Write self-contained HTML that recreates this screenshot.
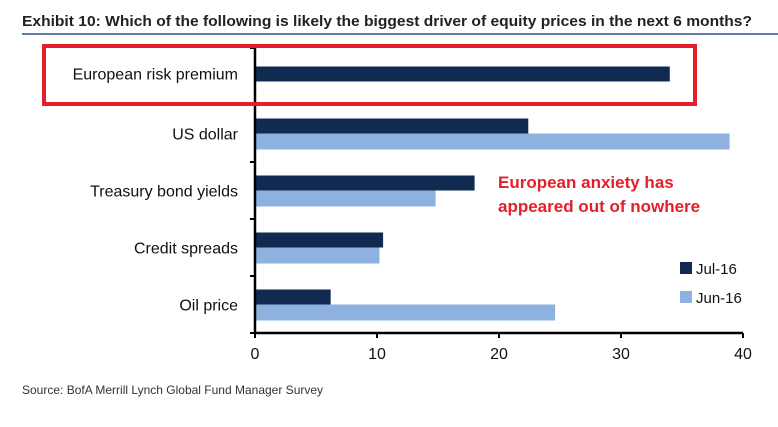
<!DOCTYPE html>
<html><head><meta charset="utf-8"><style>
body{margin:0;background:#fff;width:778px;height:422px;overflow:hidden;font-family:"Liberation Sans",sans-serif}
</style></head><body>
<svg id="c" width="778" height="422">
<text x="22" y="26" font-size="15" font-weight="bold" fill="#222" textLength="730" lengthAdjust="spacingAndGlyphs">Exhibit 10: Which of the following is likely the biggest driver of equity prices in the next 6 months?</text>
<line x1="22" y1="34" x2="778" y2="34" stroke="#5a7ea8" stroke-width="2"/>
<g id="g"></g>
<rect x="44" y="46" width="651" height="58" fill="none" stroke="#e3202a" stroke-width="4"/>
<text x="498" y="188" font-size="17" font-weight="bold" fill="#e3202a">European anxiety has</text>
<text x="498" y="212" font-size="17" font-weight="bold" fill="#e3202a">appeared out of nowhere</text>
<rect x="680" y="262" width="12" height="12" fill="#112a52"/>
<text x="696" y="274" font-size="15" fill="#111">Jul-16</text>
<rect x="680" y="291" width="12" height="12" fill="#8eb2e0"/>
<text x="696" y="303" font-size="15" fill="#111">Jun-16</text>
<text x="22" y="394" font-size="12" fill="#333">Source: BofA Merrill Lynch Global Fund Manager Survey</text>
</svg>
<script>
const categories=["European risk premium","US dollar","Treasury bond yields","Credit spreads","Oil price"];
const jul16=[34.0,22.4,18.0,10.5,6.2];
const jun16=[null,38.9,14.8,10.2,24.6];
const ticks=[0,10,20,30,40];
const NS="http://www.w3.org/2000/svg";
const g=document.getElementById('g');
const x0=255,x1=743,topY=48,bottomY=333,vmax=40;
const xs=v=>x0+(x1-x0)*v/vmax;
const band=(bottomY-topY)/categories.length;
function mk(t,a){const e=document.createElementNS(NS,t);for(const k in a)e.setAttribute(k,a[k]);g.appendChild(e);return e;}
categories.forEach((c,i)=>{
 const cy=topY+band*(i+0.5)+(i===0?-3:0);
 const t=mk('text',{x:238,y:cy+6,'font-size':16,fill:'#111','text-anchor':'end'});
 t.textContent=c;
 
 
 if(jul16[i]!=null){const r=mk('rect',{x:x0,y:cy-(jun16[i]==null?7:15),width:xs(jul16[i])-x0,height:15,fill:'#112a52'});
 
 }
 if(jun16[i]!=null){const r=mk('rect',{x:x0,y:cy,width:xs(jun16[i])-x0,height:16,fill:'#8eb2e0'});
 
 }
});
for(let i=0;i<=categories.length;i++){const l=mk('line',{x1:x0-5,x2:x0,y1:topY+band*i,y2:topY+band*i,stroke:'#000','stroke-width':2});
 
 }
const ya=mk('line',{x1:x0,x2:x0,y1:topY,y2:bottomY,stroke:'#000','stroke-width':2.5});


const xa=mk('line',{x1:x0,x2:x1,y1:bottomY,y2:bottomY,stroke:'#000','stroke-width':2.5});


ticks.forEach(v=>{
 const l=mk('line',{x1:xs(v),x2:xs(v),y1:bottomY,y2:bottomY+5,stroke:'#000','stroke-width':2});
 
 
 const t=mk('text',{x:xs(v),y:bottomY+26,'font-size':16,fill:'#111','text-anchor':'middle'});
 t.textContent=v;
 
 
});
</script>
</body></html>
